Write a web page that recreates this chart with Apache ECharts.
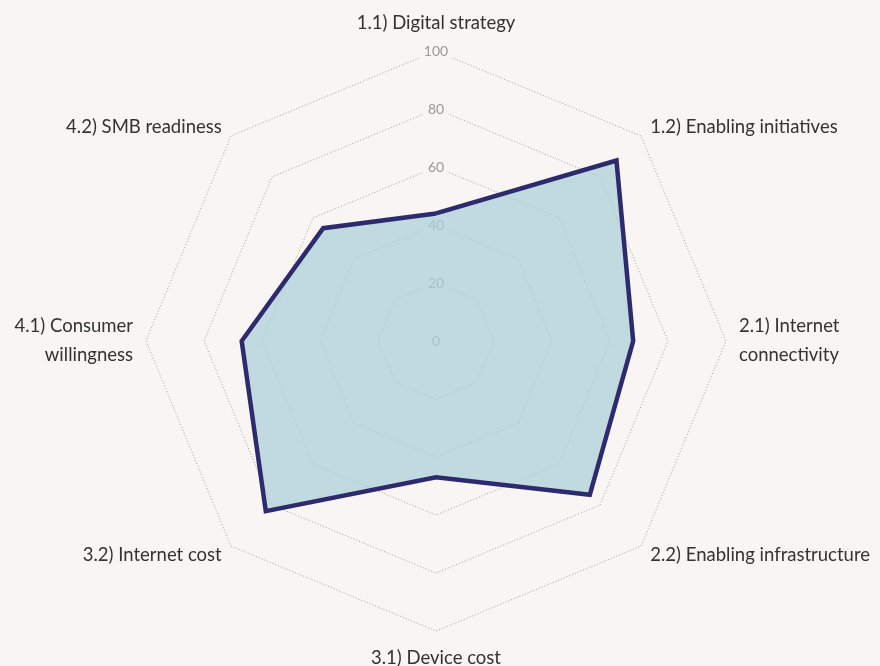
<!DOCTYPE html>
<html>

<head>
    <meta charset="utf-8">
    <title>Digital readiness radar</title>
    <script src="https://cdn.jsdelivr.net/npm/echarts@6/dist/echarts.min.js"></script>
    <style>
        body { margin: 0; background: #f8f5f2; }
    </style>
</head>

<body>
    <div id="main" style="width: 880px;height:666px;"></div>
    <script type="text/javascript">

        // indicators, clockwise from the top
        var categories = [
            '1.1) Digital strategy',
            '1.2) Enabling initiatives',
            '2.1) Internet\nconnectivity',
            '2.2) Enabling infrastructure',
            '3.1) Device cost',
            '3.2) Internet cost',
            '4.1) Consumer\nwillingness',
            '4.2) SMB readiness'
        ];
        var scores = [44, 88, 68, 75, 47, 83, 67, 55];
        var scaleMax = 100;

        var myChart = echarts.init(document.getElementById('main'));

        // echarts puts radar axes counter-clockwise, so walk the list backwards after the first one
        var order = [0];
        for (var i = categories.length - 1; i > 0; i--) order.push(i);

        var indicators = order.map(function (k, n) {
            var ind = { name: categories[k], min: 0, max: scaleMax };
            if (n === 0) {
                ind.axisLabel = {
                    show: true,
                    color: '#9a9a9a',
                    fontSize: 14,
                    fontFamily: 'Lato',
                    align: 'center',
                    verticalAlign: 'middle',
                    margin: 0,
                    backgroundColor: '#f8f5f2',
                    padding: [0, 4]
                };
            }
            return ind;
        });
        var values = order.map(function (k) { return scores[k]; });

        var option = {
            backgroundColor: '#f8f5f2',
            radar: {
                center: [436, 341],
                radius: 290,
                startAngle: 90,
                splitNumber: 5,
                shape: 'polygon',
                indicator: indicators,
                axisName: {
                    color: '#333333',
                    fontSize: 18.5,
                    fontFamily: 'Lato',
                    lineHeight: 29
                },
                axisNameGap: 13,
                axisLine: { show: false },
                axisTick: { show: false },
                axisLabel: { show: false },
                splitArea: { show: false },
                splitLine: {
                    lineStyle: { color: '#a0a0a0', type: [1, 2], width: 1 }
                }
            },
            series: [
                // fill only (translucent so the tick labels show through)
                {
                    type: 'radar',
                    symbol: 'none',
                    z: 2,
                    lineStyle: { width: 0, opacity: 0 },
                    areaStyle: { color: 'rgb(171,208,216)', opacity: 0.72 },
                    data: [{ value: values, name: 'Score' }]
                },
                // outline on top of the fill
                {
                    type: 'radar',
                    symbol: 'none',
                    z: 3,
                    lineStyle: { color: '#2e2a6e', width: 4.5, join: 'miter' },
                    data: [{ value: values, name: 'Score line' }]
                }
            ]
        };
        myChart.setOption(option);
    </script>
</body>

</html>
